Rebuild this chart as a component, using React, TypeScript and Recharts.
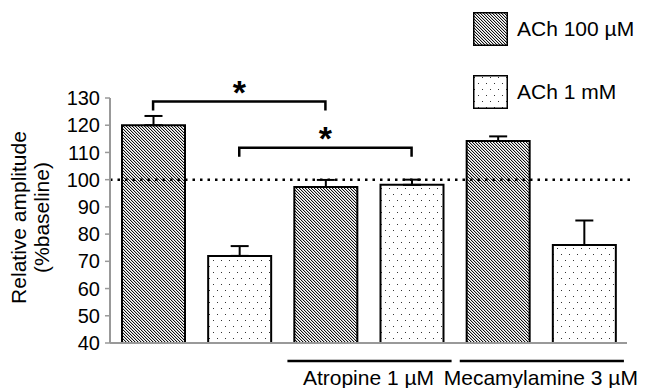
import { ComposedChart, Bar, Cell, XAxis, YAxis, ErrorBar, ReferenceLine, Legend } from 'recharts';

const CONDITIONS = [
  'ACh 100 µM',
  'ACh 1 mM',
  'Atropine + ACh 100 µM',
  'Atropine + ACh 1 mM',
  'Mecamylamine + ACh 100 µM',
  'Mecamylamine + ACh 1 mM',
];
const AMPLITUDE = [120, 72, 97.3, 98.1, 114.2, 76];
const SEM = [3.4, 3.6, 2.6, 1.9, 1.7, 9];
const SERIES_OF_BAR = [0, 1, 0, 1, 0, 1];
const SERIES = [
  { name: 'ACh 100 µM', pattern: 'hatch' },
  { name: 'ACh 1 mM', pattern: 'dots' },
];
const Y_TICKS = [40, 50, 60, 70, 80, 90, 100, 110, 120, 130];
const BASELINE = 100;
// significance brackets: bar index pairs and the level (in % baseline) of the bracket
const SIG_BRACKETS = [
  { from: 0, to: 2, level: 128.7 },
  { from: 1, to: 3, level: 111.7 },
];
const GROUPS = [
  { label: 'Atropine 1 µM', from: 2, to: 3 },
  { label: 'Mecamylamine 3 µM', from: 4, to: 5 },
];
const GROUP_LEVEL = 33.4;

const data = CONDITIONS.map((c, i) => ({
  condition: c,
  amplitude: AMPLITUDE[i],
  err: [0, SEM[i]],
}));

const FONT = '"Liberation Sans", Arial, sans-serif';

function YLabel({ viewBox }: any) {
  const cy = viewBox.y + viewBox.height / 2 - 3;
  const x1 = viewBox.x - 42;
  const x2 = viewBox.x - 19;
  return (
    <g fontFamily={FONT} fontSize={21} fill="#000">
      <text x={x1} y={cy} textAnchor="middle" dominantBaseline="central" transform={`rotate(-90, ${x1}, ${cy})`}>
        Relative amplitude
      </text>
      <text x={x2} y={cy} textAnchor="middle" dominantBaseline="central" transform={`rotate(-90, ${x2}, ${cy})`}>
        (%baseline)
      </text>
    </g>
  );
}

function LegendBox() {
  return (
    <div style={{ display: 'flex', flexDirection: 'column', gap: 29 }}>
      {SERIES.map((s) => (
        <div key={s.name} style={{ display: 'flex', alignItems: 'center', gap: 9 }}>
          <svg width={35} height={34} style={{ display: 'block' }}>
            <rect x={0.75} y={0.75} width={33.5} height={32.5} fill={`url(#${s.pattern})`} stroke="#000" strokeWidth={1.5} />
          </svg>
          <span style={{ fontFamily: FONT, fontSize: 21, color: '#000', whiteSpace: 'nowrap' }}>{s.name}</span>
        </div>
      ))}
    </div>
  );
}

export default function App() {
  return (
    <div style={{ position: 'absolute', left: 0, top: 0, width: 648, height: 388, background: '#fff' }}>
      <ComposedChart width={648} height={388} data={data} margin={{ top: 98, right: 21, bottom: 25, left: 60 }}>
        <defs>
          <pattern id="hatch" width="3" height="3" patternUnits="userSpaceOnUse">
            <rect width="3" height="3" fill="#fff" />
            <rect x="0" y="0" width="1" height="1" fill="#111" />
            <rect x="1" y="1" width="1" height="1" fill="#111" />
            <rect x="2" y="2" width="1" height="1" fill="#111" />
            <rect x="1" y="0" width="1" height="1" fill="#c4c4c4" />
            <rect x="2" y="1" width="1" height="1" fill="#c4c4c4" />
            <rect x="0" y="2" width="1" height="1" fill="#c4c4c4" />
          </pattern>
          <pattern id="dots" width="8" height="12" patternUnits="userSpaceOnUse">
            <rect width="8" height="12" fill="#fff" />
            <rect x="1" y="2" width="1" height="1" fill="#333" />
            <rect x="5" y="8" width="1" height="1" fill="#333" />
          </pattern>
        </defs>
        <XAxis
          dataKey="condition"
          height={20}
          tick={false}
          tickLine={false}
          axisLine={{ stroke: '#999', strokeWidth: 2 }}
        />
        <YAxis
          width={50}
          domain={[40, 130]}
          ticks={Y_TICKS}
          interval={0}
          tickSize={5}
          tickMargin={5}
          tickLine={{ stroke: '#999', strokeWidth: 1.5 }}
          axisLine={{ stroke: '#999', strokeWidth: 2 }}
          tick={{ fill: '#000', fontSize: 20, fontFamily: FONT }}
          label={{ content: YLabel }}
        />
        <Legend
          layout="horizontal"
          verticalAlign="middle"
          align="center"
          wrapperStyle={{ top: 12, left: 473, width: 175, height: 100 }}
          content={() => <LegendBox />}
        />
        <Bar dataKey="amplitude" barSize={63} stroke="#000" strokeWidth={2} isAnimationActive={false}>
          {data.map((d, i) => (
            <Cell key={d.condition} fill={`url(#${SERIES[SERIES_OF_BAR[i]].pattern})`} />
          ))}
          <ErrorBar dataKey="err" direction="y" width={9} stroke="#000" strokeWidth={2} />
        </Bar>
        <ReferenceLine
          y={BASELINE}
          ifOverflow="visible"
          shape={(p: any) => (
            <line x1={p.x1} y1={p.y1} x2={p.x2 + 8} y2={p.y2} stroke="#000" strokeWidth={2.5} strokeDasharray="2.5 5" />
          )}
        />
        {SIG_BRACKETS.map((b) => (
          <ReferenceLine
            key={`sig-${b.from}-${b.to}`}
            ifOverflow="visible"
            segment={[
              { x: CONDITIONS[b.from], y: b.level },
              { x: CONDITIONS[b.to], y: b.level },
            ]}
            shape={(p: any) => (
              <g>
                <path
                  d={`M${p.x1},${p.y1 + 9} V${p.y1} H${p.x2} V${p.y2 + 9}`}
                  fill="none"
                  stroke="#000"
                  strokeWidth={2.5}
                />
                <text x={(p.x1 + p.x2) / 2} y={p.y1 + 2} textAnchor="middle" fontFamily={FONT} fontWeight="bold" fontSize={34} fill="#000">
                  *
                </text>
              </g>
            )}
          />
        ))}
        {GROUPS.map((g) => (
          <ReferenceLine
            key={g.label}
            ifOverflow="visible"
            segment={[
              { x: CONDITIONS[g.from], y: GROUP_LEVEL },
              { x: CONDITIONS[g.to], y: GROUP_LEVEL },
            ]}
            shape={(p: any) => (
              <g>
                <line x1={p.x1 - 38} y1={p.y1} x2={p.x2 + 40} y2={p.y2} stroke="#000" strokeWidth={2.5} />
                <text x={(p.x1 + p.x2) / 2} y={p.y1 + 24} textAnchor="middle" fontFamily={FONT} fontSize={21} fill="#000">
                  {g.label}
                </text>
              </g>
            )}
          />
        ))}
      </ComposedChart>
    </div>
  );
}
